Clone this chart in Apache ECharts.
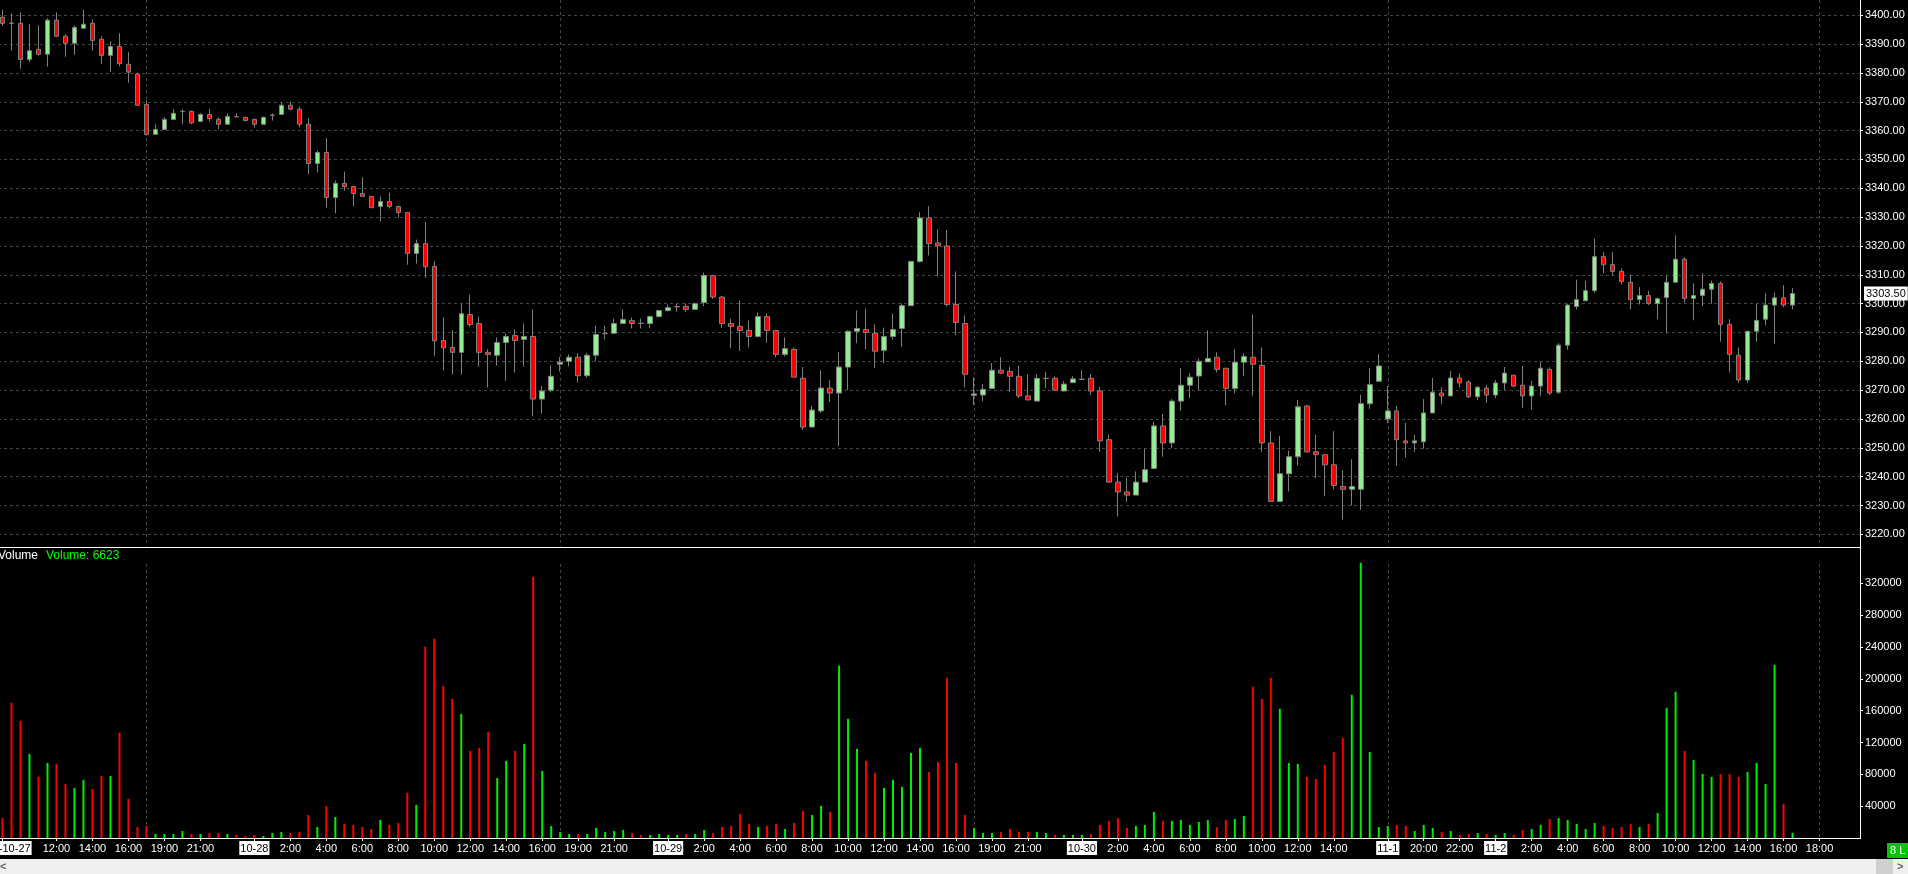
<!DOCTYPE html>
<html>
<head>
<meta charset="utf-8">
<script src="https://cdn.jsdelivr.net/npm/echarts@6/dist/echarts.min.js"></script>
<style>
html,body{margin:0;padding:0;background:#000;overflow:hidden;}
#c{width:1908px;height:874px;}
</style>
</head>
<body>
<div id="c"></div>
<script>
// ---- categories: 30-minute bars ----
const categories = [
'10-27 09:00','10-27 09:30','10-27 10:00','10-27 10:30','10-27 11:00','10-27 11:30','10-27 12:00','10-27 12:30','10-27 13:00','10-27 13:30','10-27 14:00','10-27 14:30','10-27 15:00','10-27 15:30','10-27 16:00','10-27 16:30',
'10-27 18:00','10-27 18:30','10-27 19:00','10-27 19:30','10-27 20:00','10-27 20:30','10-27 21:00','10-27 21:30','10-27 22:00','10-27 22:30','10-27 23:00','10-27 23:30',
'10-28 00:00','10-28 00:30','10-28 01:00','10-28 01:30','10-28 02:00','10-28 02:30','10-28 03:00','10-28 03:30','10-28 04:00','10-28 04:30','10-28 05:00','10-28 05:30','10-28 06:00','10-28 06:30','10-28 07:00','10-28 07:30','10-28 08:00','10-28 08:30','10-28 09:00','10-28 09:30','10-28 10:00','10-28 10:30','10-28 11:00','10-28 11:30','10-28 12:00','10-28 12:30','10-28 13:00','10-28 13:30','10-28 14:00','10-28 14:30','10-28 15:00','10-28 15:30','10-28 16:00','10-28 16:30',
'10-28 18:00','10-28 18:30','10-28 19:00','10-28 19:30','10-28 20:00','10-28 20:30','10-28 21:00','10-28 21:30','10-28 22:00','10-28 22:30','10-28 23:00','10-28 23:30',
'10-29 00:00','10-29 00:30','10-29 01:00','10-29 01:30','10-29 02:00','10-29 02:30','10-29 03:00','10-29 03:30','10-29 04:00','10-29 04:30','10-29 05:00','10-29 05:30','10-29 06:00','10-29 06:30','10-29 07:00','10-29 07:30','10-29 08:00','10-29 08:30','10-29 09:00','10-29 09:30','10-29 10:00','10-29 10:30','10-29 11:00','10-29 11:30','10-29 12:00','10-29 12:30','10-29 13:00','10-29 13:30','10-29 14:00','10-29 14:30','10-29 15:00','10-29 15:30','10-29 16:00','10-29 16:30',
'10-29 18:00','10-29 18:30','10-29 19:00','10-29 19:30','10-29 20:00','10-29 20:30','10-29 21:00','10-29 21:30','10-29 22:00','10-29 22:30','10-29 23:00','10-29 23:30',
'10-30 00:00','10-30 00:30','10-30 01:00','10-30 01:30','10-30 02:00','10-30 02:30','10-30 03:00','10-30 03:30','10-30 04:00','10-30 04:30','10-30 05:00','10-30 05:30','10-30 06:00','10-30 06:30','10-30 07:00','10-30 07:30','10-30 08:00','10-30 08:30','10-30 09:00','10-30 09:30','10-30 10:00','10-30 10:30','10-30 11:00','10-30 11:30','10-30 12:00','10-30 12:30','10-30 13:00','10-30 13:30','10-30 14:00','10-30 14:30','10-30 15:00','10-30 15:30','10-30 16:00','10-30 16:30',
'11-01 18:00','11-01 18:30','11-01 19:00','11-01 19:30','11-01 20:00','11-01 20:30','11-01 21:00','11-01 21:30','11-01 22:00','11-01 22:30','11-01 23:00','11-01 23:30',
'11-02 00:00','11-02 00:30','11-02 01:00','11-02 01:30','11-02 02:00','11-02 02:30','11-02 03:00','11-02 03:30','11-02 04:00','11-02 04:30','11-02 05:00','11-02 05:30','11-02 06:00','11-02 06:30','11-02 07:00','11-02 07:30','11-02 08:00','11-02 08:30','11-02 09:00','11-02 09:30','11-02 10:00','11-02 10:30','11-02 11:00','11-02 11:30','11-02 12:00','11-02 12:30','11-02 13:00','11-02 13:30','11-02 14:00','11-02 14:30','11-02 15:00','11-02 15:30','11-02 16:00','11-02 16:30',
'11-02 17:00','11-02 17:30','11-02 18:00','11-02 18:30','11-02 19:00','11-02 19:30','11-02 20:00'
];

const openPrices = [
3399.3,3397.3,3397.2,3384.7,3388.2,3386.5,3398.3,3392.7,3390.3,3395.5,
3397.2,3391.7,3386.1,3389.2,3383.0,3379.6,3369.1,3358.7,3360.4,3363.9,
3366.6,3366.7,3363.2,3365.6,3363.9,3362.2,3364.9,3364.6,3363.9,3362.2,
3365.3,3365.6,3368.8,3367.4,3362.2,3348.6,3352.4,3336.8,3341.7,3340.6,
3338.2,3337.2,3333.7,3335.4,3333.7,3331.6,3317.4,3320.8,3312.9,3287.2,
3284.8,3283.1,3296.2,3293.1,3283.1,3282.1,3286.5,3289.0,3287.6,3288.6,
3266.9,3270.0,3279.0,3280.0,3281.4,3275.0,3282.1,3289.6,3289.7,3293.1,
3294.1,3293.2,3293.1,3295.5,3297.6,3298.9,3299.0,3298.0,3300.4,3309.8,
3302.3,3293.1,3292.1,3290.7,3288.6,3295.5,3290.7,3282.4,3284.1,3274.1,
3257.2,3262.8,3270.7,3269.0,3278.0,3290.4,3291.0,3289.7,3283.8,3288.6,
3291.4,3299.3,3314.6,3329.7,3321.0,3320.0,3299.7,3293.1,3268.2,3268.3,
3270.6,3276.9,3276.5,3274.8,3268.0,3266.2,3274.0,3274.1,3269.7,3272.6,
3273.7,3274.1,3269.7,3252.8,3238.1,3234.7,3233.6,3238.1,3242.8,3257.6,
3251.7,3266.2,3271.7,3274.9,3279.8,3281.4,3277.6,3270.6,3279.7,3281.4,
3278.6,3251.7,3231.4,3241.0,3246.9,3264.5,3248.6,3247.6,3244.1,3236.6,
3235.6,3235.6,3265.3,3273.1,3260.0,3262.8,3252.4,3251.7,3252.1,3262.1,
3269.0,3268.0,3274.2,3272.8,3267.7,3270.7,3268.3,3272.5,3275.2,3271.7,
3268.0,3271.4,3277.2,3269.3,3285.6,3299.0,3301.0,3304.5,3316.3,3313.5,
3311.2,3307.4,3301.4,3302.8,3300.0,3302.1,3307.4,3315.4,3301.8,3302.8,
3305.0,3307.0,3292.8,3282.1,3273.5,3290.4,3294.6,3299.5,3302.0,3299.5
];

const closePrices = [
3397.2,3397.2,3384.7,3387.7,3386.5,3398.3,3392.7,3390.3,3395.8,3396.9,
3391.3,3386.1,3389.2,3383.3,3380.3,3368.8,3358.7,3360.4,3363.9,3366.0,
3366.7,3362.7,3365.6,3364.2,3362.2,3364.9,3364.8,3363.5,3362.2,3364.6,
3365.4,3368.8,3367.4,3362.2,3348.6,3352.4,3336.8,3341.7,3340.6,3338.2,
3337.2,3333.3,3335.4,3333.7,3331.6,3317.4,3320.8,3312.8,3287.1,3284.7,
3283.1,3296.5,3292.7,3283.1,3282.4,3286.5,3288.6,3287.2,3288.6,3266.9,
3269.7,3274.8,3279.7,3281.4,3275.0,3282.1,3289.3,3289.7,3293.1,3294.5,
3293.1,3293.1,3295.5,3297.6,3298.6,3299.0,3298.0,3300.0,3309.8,3302.3,
3293.1,3292.1,3290.7,3288.6,3295.5,3290.7,3282.4,3284.4,3274.5,3257.2,
3263.1,3270.7,3269.0,3278.0,3290.4,3291.4,3290.0,3283.5,3288.6,3291.0,
3299.3,3314.6,3329.7,3320.8,3320.1,3299.7,3293.5,3275.5,3268.7,3270.3,
3276.9,3275.9,3274.8,3268.0,3266.6,3274.1,3274.1,3270.0,3272.1,3273.9,
3273.8,3269.7,3252.4,3238.1,3234.7,3233.6,3238.1,3242.4,3257.6,3251.7,
3266.2,3271.7,3274.5,3280.0,3281.0,3277.2,3270.6,3279.7,3281.7,3279.0,
3251.7,3231.4,3241.0,3246.9,3264.2,3248.6,3247.6,3244.1,3236.9,3235.6,
3236.6,3265.3,3271.9,3278.4,3262.8,3252.8,3251.7,3252.4,3262.1,3269.3,
3268.0,3274.2,3272.5,3267.7,3271.0,3268.3,3272.5,3275.9,3271.4,3268.0,
3271.4,3277.6,3269.0,3285.6,3299.5,3301.4,3304.5,3316.3,3313.5,3311.2,
3307.7,3301.4,3302.8,3300.0,3301.7,3307.4,3315.4,3301.8,3302.8,3305.0,
3307.0,3292.8,3282.4,3273.5,3290.4,3294.2,3299.5,3302.0,3299.5,3303.5
];

const highPrices = [
3401.9,3400.7,3401.0,3396.9,3396.5,3399.0,3401.0,3393.4,3396.5,3401.9,
3398.6,3392.7,3391.0,3393.8,3387.2,3380.1,3370.5,3362.2,3364.6,3367.5,
3367.5,3367.0,3366.0,3367.5,3364.6,3366.0,3366.0,3364.6,3364.2,3364.9,
3366.0,3369.8,3370.1,3368.4,3364.2,3353.1,3357.4,3342.7,3345.8,3340.6,
3343.8,3337.2,3337.2,3338.5,3334.0,3331.6,3322.2,3328.3,3314.7,3295.3,
3290.8,3300.0,3303.1,3295.5,3284.2,3288.3,3289.7,3291.0,3293.1,3298.0,
3271.4,3278.6,3281.5,3282.4,3282.8,3282.8,3292.4,3292.4,3294.8,3298.0,
3295.2,3294.8,3295.9,3297.6,3299.7,3300.0,3300.0,3300.4,3310.8,3309.8,
3302.7,3294.8,3301.1,3294.1,3296.9,3296.6,3290.7,3288.3,3284.8,3278.0,
3264.5,3276.9,3273.4,3283.2,3290.7,3297.6,3298.3,3292.8,3291.7,3296.6,
3300.0,3314.9,3331.7,3333.8,3325.8,3325.5,3311.2,3295.9,3274.5,3272.1,
3279.4,3281.4,3278.1,3278.5,3275.4,3275.4,3276.3,3274.8,3273.1,3274.8,
3276.9,3275.5,3271.1,3254.5,3241.2,3239.5,3241.8,3249.7,3259.0,3261.7,
3266.9,3277.6,3275.9,3281.0,3290.7,3283.1,3277.6,3284.2,3282.8,3296.3,
3284.8,3255.8,3254.1,3249.1,3266.6,3264.9,3254.5,3247.6,3255.8,3242.2,
3246.0,3268.4,3277.6,3282.5,3271.4,3264.5,3258.6,3254.5,3266.9,3274.2,
3271.0,3276.6,3275.9,3273.5,3271.4,3271.7,3273.5,3278.0,3275.2,3278.4,
3273.2,3279.7,3277.9,3286.3,3300.0,3308.3,3307.9,3322.6,3317.9,3317.9,
3312.2,3310.1,3305.7,3304.5,3302.1,3309.9,3323.7,3316.1,3307.0,3310.5,
3308.0,3307.7,3294.6,3284.8,3290.7,3300.0,3303.6,3303.8,3306.4,3305.4
];

const lowPrices = [
3396.4,3387.7,3381.5,3383.9,3386.0,3382.2,3392.7,3385.6,3386.3,3395.5,
3387.7,3383.2,3380.4,3382.3,3376.6,3368.8,3358.3,3358.7,3360.4,3363.9,
3362.3,3362.2,3363.2,3363.2,3360.5,3362.2,3364.6,3363.2,3361.1,3362.2,
3363.5,3365.6,3367.0,3361.1,3344.8,3345.5,3333.3,3331.3,3339.2,3333.7,
3337.2,3333.0,3328.5,3333.0,3329.9,3313.5,3313.9,3309.0,3281.9,3276.8,
3275.4,3275.4,3292.0,3278.2,3270.9,3278.5,3273.3,3276.1,3278.2,3260.9,
3261.9,3269.3,3276.5,3278.2,3272.6,3274.3,3280.0,3287.6,3289.7,3293.1,
3291.4,3291.4,3291.4,3295.2,3297.2,3297.2,3297.2,3298.0,3299.2,3301.6,
3291.7,3284.6,3283.6,3284.8,3288.3,3286.5,3281.4,3281.7,3274.5,3256.2,
3257.2,3262.1,3266.0,3250.6,3270.0,3286.3,3284.2,3277.7,3279.4,3287.6,
3285.0,3299.3,3314.3,3316.7,3309.4,3299.0,3289.1,3271.0,3264.8,3266.2,
3270.3,3275.5,3269.3,3267.3,3266.6,3266.2,3270.7,3270.0,3269.7,3272.6,
3273.7,3268.3,3248.6,3237.8,3226.2,3231.3,3233.6,3238.1,3242.8,3246.9,
3250.0,3262.8,3267.3,3270.0,3279.8,3276.2,3264.7,3268.9,3274.9,3268.0,
3248.6,3231.4,3231.4,3234.9,3243.8,3248.3,3239.5,3233.2,3235.6,3225.1,
3230.0,3228.5,3263.5,3273.1,3258.6,3243.8,3246.6,3248.6,3249.7,3262.1,
3265.2,3268.0,3271.0,3267.3,3266.6,3265.6,3267.3,3270.0,3271.0,3263.9,
3263.2,3268.0,3268.3,3268.7,3284.0,3298.0,3301.0,3303.8,3310.5,3309.8,
3306.7,3298.0,3299.7,3299.5,3294.6,3289.7,3307.4,3300.4,3294.2,3299.1,
3300.0,3286.8,3276.2,3272.5,3272.5,3286.8,3292.5,3286.2,3298.8,3298.0
];

const volumes = [
25200,169800,147200,105700,76700,94300,93100,67900,62900,73000,
61600,78000,78000,132100,49100,13800,15100,5000,5000,5000,
8800,5000,5000,6300,6300,5000,3800,2500,3800,2500,
6300,7500,6300,7500,28900,13800,40300,26400,17600,16400,
13800,11300,22600,16400,18900,56600,41500,240300,250300,191200,
174800,156000,109400,113200,133300,75500,96900,109400,118200,328300,
84300,15100,7500,5000,5000,5000,12600,7500,8800,10100,
6300,3800,3800,5000,3800,3800,5000,5000,10100,6300,
13800,15100,30200,17600,13800,15100,17600,11300,18900,34000,
28900,40300,32700,216400,149700,112000,96900,81800,62900,73000,
64200,106900,113200,83000,95600,201300,94300,28900,12600,6300,
6300,7500,11300,7500,7500,7500,6300,3800,3800,3800,
3800,5000,16400,21400,25200,12600,15100,16400,32700,21400,
21400,22600,16400,20100,22600,13800,22600,23900,27700,189900,
174800,201300,162300,94300,93100,76700,74200,91800,108200,125800,
179900,345900,108200,13800,15100,16400,15100,8800,16400,12600,
7500,8800,3800,5000,6300,5000,3800,6300,3800,10100,
11300,16400,23900,25200,22600,17600,11300,18900,15100,12600,
13800,17600,13800,17600,31400,163500,183700,109400,98100,80500,
76700,80500,80500,76700,83000,94300,67900,217600,42800,6623
];

// x-axis tick labels (category index -> text)
const tickIndex = [0,6,10,14,18,22,28,32,36,40,44,48,52,56,60,64,68,74,78,82,86,90,94,98,102,106,110,114,120,124,128,132,136,140,144,148,154,158,162,166,170,174,178,182,186,190,194,198,202];
const tickText = ['2020-10-27','12:00','14:00','16:00','19:00','21:00','10-28','2:00','4:00','6:00','8:00','10:00','12:00','14:00','16:00','19:00','21:00','10-29','2:00','4:00','6:00','8:00','10:00','12:00','14:00','16:00','19:00','21:00','10-30','2:00','4:00','6:00','8:00','10:00','12:00','14:00','11-1','20:00','22:00','11-2','2:00','4:00','6:00','8:00','10:00','12:00','14:00','16:00','18:00'];
// session starts (vertical dashed lines)
const sessionStarts = [16,62,108,154,202];

// ---- rendering ----
const UP = '#90ee90', DOWN = '#ff0000', WICK = '#808080';
const VUP = '#00ee00', VDOWN = '#ff0000', GRIDC = '#444444';
const FONT = '"Liberation Sans", Arial, sans-serif';

const candleData = openPrices.map((o, i) => [o, closePrices[i], lowPrices[i], highPrices[i]]);
const volData = volumes.map((v, i) => ({ value: v, itemStyle: { color: closePrices[i] > openPrices[i] ? VUP : VDOWN } }));
const isTick = i => tickIndex.indexOf(i) >= 0;
const isSession = i => sessionStarts.indexOf(i) >= 0;
const lastClose = closePrices[closePrices.length - 1];
const lastVol = volumes[volumes.length - 1];

const chart = echarts.init(document.getElementById('c'), null, { renderer: 'canvas', width: 1908, height: 874 });

const option = {
  backgroundColor: '#000',
  animation: false,
  textStyle: { fontFamily: FONT },
  grid: [
    { left: -2, right: 48, top: 0, height: 547, containLabel: false, outerBoundsMode: 'none' },
    { left: -2, right: 48, top: 564, height: 274, containLabel: false, outerBoundsMode: 'none' }
  ],
  xAxis: [
    {
      type: 'category', gridIndex: 0, data: categories, boundaryGap: true,
      axisLine: { show: false }, axisTick: { show: false }, axisLabel: { show: false },
      splitLine: { show: true, interval: (i) => isSession(i), alignWithLabel: true,
        lineStyle: { color: GRIDC, type: [3, 3], width: 1 } }
    },
    {
      type: 'category', gridIndex: 1, data: categories, boundaryGap: true,
      axisLine: { show: true, lineStyle: { color: '#ffffff', width: 1 } },
      axisTick: { show: true, interval: (i) => isTick(i), alignWithLabel: true, length: 3,
        lineStyle: { color: '#ffffff' } },
      axisLabel: {
        show: true, interval: (i) => isTick(i), margin: 4, hideOverlap: false,
        formatter: function (v, i) {
          const k = tickIndex.indexOf(i);
          if (k < 0) return '';
          const t = tickText[k];
          return t.indexOf('-') >= 0 ? '{d|' + t + '}' : '{t|' + t + '}';
        },
        rich: {
          d: { color: '#000', backgroundColor: '#fff', padding: [2, 1, 1, 1], fontSize: 11, lineHeight: 12, fontFamily: FONT },
          t: { color: '#fff', padding: [2, 1, 1, 1], fontSize: 11, lineHeight: 12, fontFamily: FONT }
        }
      },
      splitLine: { show: true, interval: (i) => isSession(i), alignWithLabel: true,
        lineStyle: { color: GRIDC, type: [3, 3], width: 1 } }
    }
  ],
  yAxis: [
    {
      type: 'value', gridIndex: 0, position: 'right',
      min: 3215.6, max: 3405.3, splitNumber: 19, minInterval: 10, maxInterval: 10,
      axisLine: { show: false },
      axisTick: { show: true, length: 3, lineStyle: { color: '#fff' } },
      axisLabel: { color: '#fff', fontSize: 11, margin: 5, showMinLabel: false, showMaxLabel: false,
        formatter: v => v.toFixed(2) },
      splitLine: { show: true, showMinLine: false, showMaxLine: false,
        lineStyle: { color: GRIDC, type: [3, 3], width: 1 } }
    },
    {
      type: 'value', gridIndex: 1, position: 'right',
      min: 0, max: 344200, interval: 40000,
      axisLine: { show: false },
      axisTick: { show: true, length: 3, lineStyle: { color: '#fff' } },
      axisLabel: { color: '#fff', fontSize: 11, margin: 5, showMinLabel: false, showMaxLabel: false,
        formatter: v => String(Math.round(v)) },
      splitLine: { show: false }
    }
  ],
  series: [
    {
      name: 'Price', type: 'candlestick', xAxisIndex: 0, yAxisIndex: 0,
      data: candleData, barWidth: 5,
      itemStyle: { color: UP, color0: DOWN, borderColor: WICK, borderColor0: WICK, borderWidth: 1 },
      markLine: {
        silent: true, symbol: 'none', animation: false,
        lineStyle: { color: 'rgba(0,0,0,0)', width: 0 },
        label: { show: true, position: 'end', distance: 4, formatter: () => lastClose.toFixed(2),
          color: '#000', backgroundColor: '#fff', padding: [2, 2, 1, 2], fontSize: 11, fontFamily: FONT },
        data: [{ yAxis: lastClose }]
      }
    },
    {
      name: 'Volume', type: 'bar', xAxisIndex: 1, yAxisIndex: 1,
      data: volData, barWidth: 2, clip: false
    }
  ],
  graphic: [
    { type: 'line', silent: true, z: 10, shape: { x1: 0, y1: 547.5, x2: 1860, y2: 547.5 }, style: { stroke: '#fff', lineWidth: 1 } },
    { type: 'line', silent: true, z: 10, shape: { x1: 1860.5, y1: 0, x2: 1860.5, y2: 839 }, style: { stroke: '#fff', lineWidth: 1 } },
    { type: 'text', silent: true, x: -2, y: 556, style: { text: 'Volume', fill: '#fff', font: '12px ' + FONT, verticalAlign: 'middle' } },
    { type: 'text', silent: true, x: 46, y: 556, style: { text: 'Volume: ' + lastVol, fill: '#00ff00', font: '12px ' + FONT, verticalAlign: 'middle' } },
    { type: 'rect', silent: true, shape: { x: 0, y: 859, width: 1908, height: 15 }, style: { fill: '#f0f0f0' } },
    { type: 'text', silent: true, x: 0, y: 866.5, style: { text: '<', fill: '#606060', font: 'bold 11px ' + FONT, verticalAlign: 'middle' } },
    { type: 'rect', silent: true, shape: { x: 1876, y: 859, width: 17, height: 15 }, style: { fill: '#d0d0d0' } },
    { type: 'text', silent: true, x: 1897, y: 866.5, style: { text: '>', fill: '#606060', font: 'bold 11px ' + FONT, verticalAlign: 'middle' } },
    { type: 'rect', silent: true, shape: { x: 1887, y: 843, width: 21, height: 15 }, style: { fill: '#00c800' } },
    { type: 'text', silent: true, x: 1890, y: 851, style: { text: '8 L', fill: '#fff', font: '11px ' + FONT, verticalAlign: 'middle' } }
  ]
};
chart.setOption(option);
</script>
</body>
</html>
